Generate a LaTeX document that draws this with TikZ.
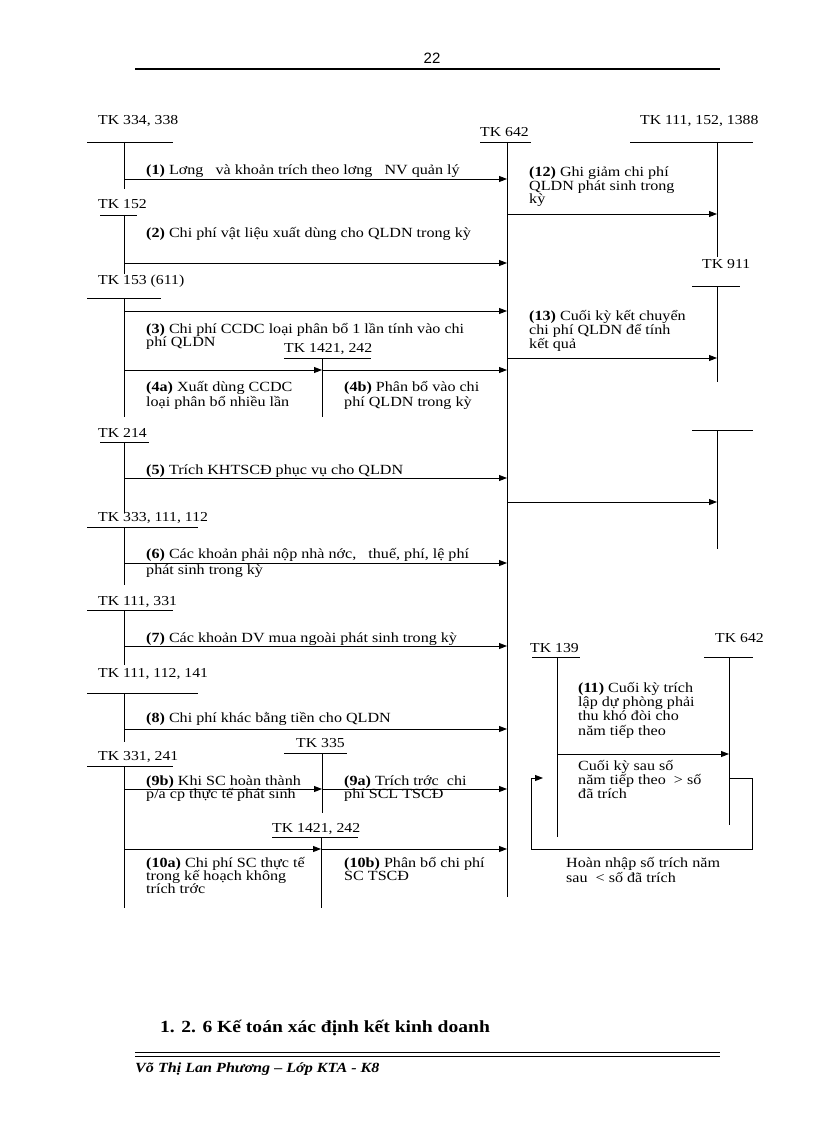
\documentclass[tikz,border=0pt]{standalone}
\usepackage{fontspec}
\setmainfont{Liberation Serif}[FakeStretch=1.15]
\newfontfamily\hdrfont{Liberation Sans}
\usetikzlibrary{arrows.meta}
% #1 name, #2 text, #3 text x, #4 text baseline, #5 bar x1, #6 bar x2, #7 bar y, #8 stem x, #9 stem bottom
\newcommand{\TAcct}[9]{%
  \node[acct] (#1) at (#3,#4) {#2};
  \coordinate (#1-l) at (#5,#7);
  \coordinate (#1-r) at (#6,#7);
  \coordinate (#1-t) at (#8,#7);
  \coordinate (#1-b) at (#8,#9);
  \draw[tline] (#1-l) -- (#1-r) (#1-t) -- (#1-b);
}
\newcommand{\lblfont}[1]{\fontsize{14}{#1}\selectfont\lineskiplimit=-100pt\relax}
\tikzset{
  acct/.style={font=\fontsize{13.7}{14}\selectfont, inner sep=0pt, anchor=base west},
  lbl/.style={font=\lblfont{14}, inner sep=0pt, anchor=base west, align=left},
  tline/.style={line width=0.9pt},
  arr/.style={line width=0.9pt, -{Triangle[length=8pt,width=6pt]}},
}
\begin{document}
\begin{tikzpicture}[x=1pt,y=-1pt]
\useasboundingbox[fill=white] (0,0) rectangle (816,1123);

% header
\node[font=\hdrfont\fontsize{15}{15}\selectfont, inner sep=0pt] (pageno) at (432,58) {22};
\coordinate (hl) at (135,69); \coordinate (hr) at (720,69);
\draw[line width=2.3pt] (hl) -- (hr);

% T accounts
\TAcct{a334}{TK 334, 338}{98}{125}{87}{173}{142}{124}{189}
\TAcct{k642}{TK 642}{480}{137}{480}{531}{142}{507}{897}
\TAcct{a1388}{TK 111, 152, 1388}{640}{125}{630}{753}{142}{717}{257}
\TAcct{a911}{TK 911}{702}{268}{692}{740}{286}{717}{382}
\TAcct{a152}{TK 152}{98}{209}{100}{137}{215}{124}{274}
\TAcct{a153}{TK 153 (611)}{98}{284}{87}{161}{298}{124}{417}
\TAcct{a1421}{TK 1421, 242}{284}{352}{284}{371}{358}{322}{417}
\TAcct{a214}{TK 214}{98}{437}{100}{149}{442}{124}{513}
\TAcct{a333}{TK 333, 111, 112}{98}{521}{87}{198}{527}{124}{585}
\TAcct{a331}{TK 111, 331}{98}{605}{87}{173}{610}{124}{665}
\TAcct{a141}{TK 111, 112, 141}{98}{677}{87}{198}{693}{124}{742}
\TAcct{a241}{TK 331, 241}{98}{760}{87}{173}{766}{124}{908}
\TAcct{a335}{TK 335}{296}{747}{284}{347}{753}{322}{813}
\TAcct{b1421}{TK 1421, 242}{272}{832}{272}{358}{837}{321}{908}
\TAcct{a139}{TK 139}{530}{652}{532}{580}{657}{557}{837}
\TAcct{b642}{TK 642}{715}{642}{704}{753}{657}{729}{825}

% unlabeled right T account
\coordinate (u-l) at (692,430); \coordinate (u-r) at (753,430);
\coordinate (u-t) at (717,430); \coordinate (u-b) at (717,549);
\draw[tline] (u-l) -- (u-r) (u-t) -- (u-b);

% arrows
\draw[arr] (a334-t |- 0,179) -- (k642-t |- 0,179);
\draw[arr] (k642-t |- 0,214) -- (a1388-t |- 0,214);
\draw[arr] (a152-t |- 0,263) -- (k642-t |- 0,263);
\draw[arr] (a153-t |- 0,311) -- (k642-t |- 0,311);
\draw[arr] (k642-t |- 0,358) -- (a911-t |- 0,358);
\draw[arr] (a153-t |- 0,370) -- (a1421-t |- 0,370);
\draw[arr] (a1421-t |- 0,370) -- (k642-t |- 0,370);
\draw[arr] (a214-t |- 0,478) -- (k642-t |- 0,478);
\draw[arr] (k642-t |- 0,502) -- (u-t |- 0,502);
\draw[arr] (a333-t |- 0,563) -- (k642-t |- 0,563);
\draw[arr] (a331-t |- 0,646) -- (k642-t |- 0,646);
\draw[arr] (a141-t |- 0,729) -- (k642-t |- 0,729);
\draw[arr] (a241-t |- 0,789) -- (a335-t |- 0,789);
\draw[arr] (a335-t |- 0,789) -- (k642-t |- 0,789);
\draw[arr] (a241-t |- 0,849) -- (b1421-t |- 0,849);
\draw[arr] (b1421-t |- 0,849) -- (k642-t |- 0,849);
\draw[arr] (a139-t |- 0,754) -- (b642-t |- 0,754);
\coordinate (lp1) at (752,778); \coordinate (lp2) at (752,849);
\coordinate (lp3) at (531,849); \coordinate (lp4) at (531,778);
\coordinate (lp5) at (543,778);
\draw[arr] (b642-t |- lp1) -- (lp1) -- (lp2) -- (lp3) -- (lp4) -- (lp5);

% labels (anchor = baseline of the last line)
\node[lbl] (l1) at (146,175) {\textbf{(1)} Lơng \ \ và khoản trích theo lơng \ \ NV quản lý};
\node[lbl, font=\lblfont{13.5}] (l12) at (529,204) {\textbf{(12)} Ghi giảm chi phí\\QLDN phát sinh trong\\kỳ};
\node[lbl] (l2) at (146,237) {\textbf{(2)} Chi phí vật liệu xuất dùng cho QLDN trong kỳ};
\node[lbl, font=\lblfont{13}] (l3) at (146,346) {\textbf{(3)} Chi phí CCDC loại phân bổ 1 lần tính vào chi\\phí QLDN};
\node[lbl] (l13) at (529,348) {\textbf{(13)} Cuối kỳ kết chuyển\\chi phí QLDN để tính\\kết quả};
\node[lbl, font=\lblfont{15}] (l4a) at (146,406) {\textbf{(4a)} Xuất dùng CCDC\\loại phân bổ nhiều lần};
\node[lbl, font=\lblfont{15}] (l4b) at (344,406) {\textbf{(4b)} Phân bổ vào chi\\phí QLDN trong kỳ};
\node[lbl] (l5) at (146,474) {\textbf{(5)} Trích KHTSCĐ phục vụ cho QLDN};
\node[lbl, font=\lblfont{16}] (l6) at (146,574) {\textbf{(6)} Các khoản phải nộp nhà nớc, \ \ thuế, phí, lệ phí\\phát sinh trong kỳ};
\node[lbl] (l7) at (146,642) {\textbf{(7)} Các khoản DV mua ngoài phát sinh trong kỳ};
\node[lbl] (l8) at (146,722) {\textbf{(8)} Chi phí khác bằng tiền cho QLDN};
\node[lbl, font=\lblfont{13}] (l9b) at (146,798) {\textbf{(9b)} Khi SC hoàn thành\\p/a cp thực tế phát sinh};
\node[lbl, font=\lblfont{13}] (l9a) at (344,798) {\textbf{(9a)} Trích trớc \ chi\\phí SCL TSCĐ};
\node[lbl, font=\lblfont{13}] (l10a) at (146,893) {\textbf{(10a)} Chi phí SC thực tế\\trong kế hoạch không\\trích trớc};
\node[lbl, font=\lblfont{13}] (l10b) at (344,880) {\textbf{(10b)} Phân bổ chi phí\\SC TSCĐ};
\node[lbl, font=\lblfont{14.3}] (l11) at (578,735) {\textbf{(11)} Cuối kỳ trích\\lập dự phòng phải\\thu khó đòi cho\\năm tiếp theo};
\node[lbl] (lsau) at (578,798) {Cuối kỳ sau số\\năm tiếp theo \ > số\\đã trích};
\node[lbl, font=\lblfont{15}] (lhoan) at (566,882) {Hoàn nhập số trích năm\\sau \ < số đã trích};

% footer
\node[font=\bfseries\fontsize{17}{17}\selectfont, inner sep=0pt, anchor=base west] (sec) at (160,1032) {1. 2. 6 Kế toán xác định kết kinh doanh};
\coordinate (f1l) at (135,1052); \coordinate (f1r) at (720,1052);
\coordinate (f2l) at (135,1056); \coordinate (f2r) at (720,1056);
\draw[line width=1pt] (f1l) -- (f1r) (f2l) -- (f2r);
\node[font=\bfseries\itshape\fontsize{14}{14}\selectfont, inner sep=0pt, anchor=base west] (author) at (135,1072) {Võ Thị Lan Phương – Lớp KTA - K8};
\end{tikzpicture}
\end{document}
